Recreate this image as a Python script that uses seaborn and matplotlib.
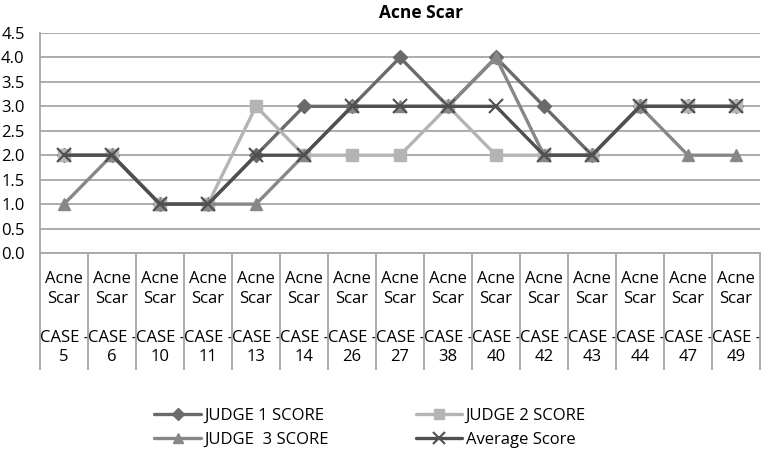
import numpy as np
import pandas as pd
import seaborn as sns
import matplotlib.pyplot as plt

# --- data ---
cases = ["5", "6", "10", "11", "13", "14", "26", "27", "38", "40", "42", "43", "44", "47", "49"]
judge1 = [2, 2, 1, 1, 2, 3, 3, 4, 3, 4, 3, 2, 3, 3, 3]
judge2 = [2, 2, 1, 1, 3, 2, 2, 2, 3, 2, 2, 2, 3, 3, 3]
judge3 = [1, 2, 1, 1, 1, 2, 3, 3, 3, 4, 2, 2, 3, 2, 2]
average = [2, 2, 1, 1, 2, 2, 3, 3, 3, 3, 2, 2, 3, 3, 3]
series_names = ["JUDGE 1 SCORE", "JUDGE 2 SCORE", "JUDGE  3 SCORE", "Average Score"]

sns.set_style("white")
plt.rcParams['font.family'] = ['Open Sans', 'DejaVu Sans']
plt.rcParams['text.color'] = 'black'
plt.rcParams['xtick.labelcolor'] = 'black'
plt.rcParams['ytick.labelcolor'] = 'black'

rows = []
for name, vals in zip(series_names, [judge1, judge2, judge3, average]):
    for i, v in enumerate(vals):
        rows.append({"pos": i, "score": v, "series": name})
df = pd.DataFrame(rows)

styles = {
    "JUDGE 1 SCORE": dict(color="#6a6a6a", marker="D", markersize=7),
    "JUDGE 2 SCORE": dict(color="#b4b4b4", marker="s", markersize=8),
    "JUDGE  3 SCORE": dict(color="#878787", marker="^", markersize=9),
    "Average Score": dict(color="#4f4f4f", marker="x", markersize=10, markeredgewidth=1.5),
}

fig = plt.figure(figsize=(7.61, 4.53), dpi=100)
ax = fig.add_axes([40 / 761, 1 - 253 / 453, 720 / 761, 220 / 453])

handles = {}
for name in series_names:
    st = styles[name]
    sns.lineplot(data=df[df["series"] == name], x="pos", y="score", ax=ax,
                 color=st["color"], linewidth=2.4, marker=st["marker"],
                 markersize=st["markersize"], markeredgecolor=st["color"],
                 markeredgewidth=st.get("markeredgewidth", 1), label=name,
                 legend=False, zorder=3)
    handles[name] = ax.lines[-1]

ax.set_xlim(-0.5, len(cases) - 0.5)
ax.set_ylim(0, 4.5)
ax.set_yticks(np.arange(0, 4.51, 0.5))
ax.set_yticklabels([f"{v:.1f}" for v in np.arange(0, 4.51, 0.5)], fontsize=12)
ax.yaxis.grid(True, color="#a6a6a6", linewidth=1.3)
ax.tick_params(axis="y", length=0, pad=11)

ax.set_xticks(range(len(cases)))
ax.set_xticklabels([f"Acne\nScar\n\nCASE -\n{c}" for c in cases], fontsize=12)
for lab in ax.get_xticklabels():
    lab.set_linespacing(1.3)
ax.tick_params(axis="x", which="major", length=0, pad=13)
ax.set_xticks(np.arange(-0.5, len(cases), 1), minor=True)
ax.tick_params(axis="x", which="minor", bottom=True, length=84, color="#a6a6a6",
               width=1.3, direction="out")

ax.set_xlabel("")
ax.set_ylabel("")
for side in ["top", "right"]:
    ax.spines[side].set_visible(False)
for side in ["left", "bottom"]:
    ax.spines[side].set_color("#a6a6a6")
    ax.spines[side].set_linewidth(1.3)

fig.text(421 / 761, 1 - 13 / 453, "Acne Scar", fontsize=12.5, fontweight="bold",
         ha="center", va="center")

order = ["JUDGE 1 SCORE", "JUDGE  3 SCORE", "JUDGE 2 SCORE", "Average Score"]
fig.legend([handles[n] for n in order], order, ncol=2, frameon=False, fontsize=12,
           loc="center", bbox_to_anchor=(370 / 761, 1 - 428 / 453),
           handlelength=2.8, columnspacing=5.2, labelspacing=0.45, handletextpad=0.2,
           markerscale=0.85)

plt.savefig("out.png", dpi=100)
plt.close()
